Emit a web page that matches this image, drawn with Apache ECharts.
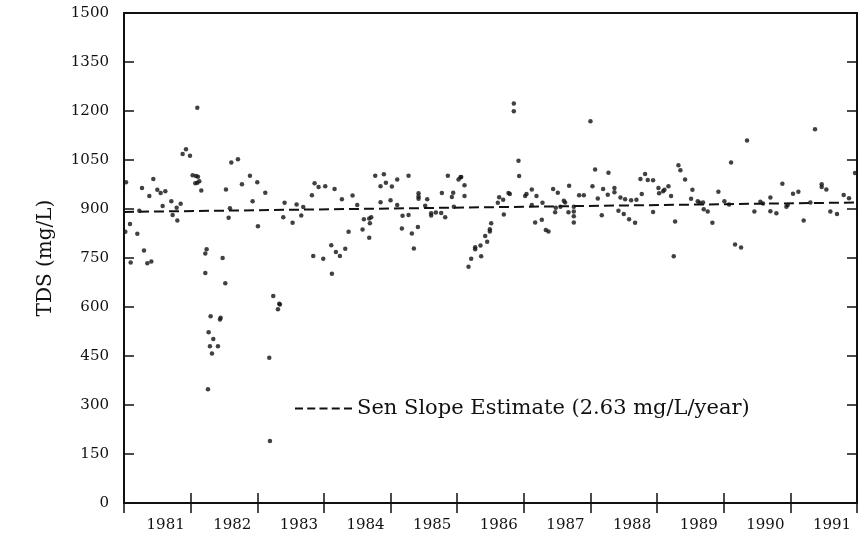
<!DOCTYPE html>
<html><head><meta charset="utf-8">
<script src="https://cdn.jsdelivr.net/npm/echarts@6/dist/echarts.min.js"></script>
<style>html,body{margin:0;padding:0;background:#fff}#c{width:860px;height:537px}</style>
</head><body><div id="c"></div>
<script>
// sampling time (decimal year) and TDS (mg/L)
const sampleTime = [
1980.03,1980.02,1980.09,1980.10,1980.20,1980.23,1980.27,1980.30,1980.35,1980.41,1980.38,1980.44,1980.50,1980.55,1980.58,1980.62,1980.71,1980.73,1980.79,1980.85,1980.80,1980.88,1980.93,1980.99,
1981.10,1981.03,1981.08,1981.11,1981.07,1981.10,1981.13,1981.16,1981.22,1981.24,1981.22,1981.26,1981.27,1981.29,1981.30,1981.32,1981.34,1981.41,1981.44,1981.45,1981.48,1981.52,1981.53,1981.57,1981.59,1981.61,1981.71,1981.77,1981.89,1981.93,
1982.00,1982.01,1982.12,1982.18,1982.19,1982.24,1982.31,1982.33,1982.34,1982.41,1982.39,1982.53,1982.59,1982.66,1982.69,1982.82,1982.84,1982.86,1982.92,1982.99,
1983.02,1983.11,1983.12,1983.16,1983.18,1983.24,1983.27,1983.32,1983.37,1983.43,1983.50,1983.58,1983.60,1983.68,1983.71,1983.69,1983.68,1983.77,1983.85,1983.85,1983.90,1983.93,
1984.00,1984.02,1984.10,1984.10,1984.18,1984.17,1984.27,1984.27,1984.32,1984.35,1984.42,1984.42,1984.42,1984.41,1984.52,1984.55,1984.61,1984.61,1984.68,1984.76,1984.77,1984.82,1984.86,1984.92,1984.94,1984.95,
1985.02,1985.05,1985.06,1985.11,1985.11,1985.17,1985.21,1985.27,1985.27,1985.35,1985.36,1985.42,1985.45,1985.49,1985.49,1985.51,1985.61,1985.63,1985.69,1985.70,1985.77,1985.79,1985.85,1985.85,1985.92,1985.93,
1986.02,1986.04,1986.12,1986.12,1986.17,1986.19,1986.27,1986.28,1986.33,1986.37,1986.44,1986.47,1986.48,1986.51,1986.55,1986.60,1986.62,1986.67,1986.68,1986.75,1986.75,1986.75,1986.75,1986.83,1986.90,
1987.00,1987.03,1987.07,1987.11,1987.17,1987.19,1987.26,1987.27,1987.36,1987.36,1987.42,1987.45,1987.50,1987.52,1987.58,1987.61,1987.67,1987.69,1987.75,1987.77,1987.82,1987.86,1987.94,1987.94,
1988.02,1988.03,1988.09,1988.11,1988.17,1988.21,1988.25,1988.27,1988.32,1988.35,1988.42,1988.51,1988.53,1988.61,1988.64,1988.70,1988.69,1988.76,1988.83,1988.92,
1989.01,1989.08,1989.11,1989.17,1989.26,1989.35,1989.46,1989.55,1989.59,1989.70,1989.70,1989.79,1989.88,1989.94,1989.96,
1990.04,1990.12,1990.20,1990.30,1990.37,1990.47,1990.47,1990.54,1990.60,1990.70,1990.80,1990.88,1990.97
];
const tdsValues = [
982,830,854,736,824,895,964,773,734,739,940,992,959,949,909,954,924,882,904,916,865,1068,1083,1063,
1210,1003,1001,999,979,980,985,957,764,777,704,348,523,480,572,458,502,480,562,567,750,673,960,873,902,1042,1052,976,1002,924,
982,847,950,445,190,634,593,610,608,919,875,858,914,880,906,942,756,979,967,748,
970,789,702,961,768,756,930,778,830,941,912,837,869,871,875,856,812,1002,970,921,1006,980,
927,969,990,912,879,840,882,1002,825,779,948,938,931,845,910,930,887,880,889,888,949,875,1002,937,950,907,
990,997,998,973,940,723,748,783,777,788,755,817,800,838,831,856,919,936,928,883,949,946,1223,1199,1048,1001,
940,946,960,912,859,940,867,919,836,831,961,890,904,950,907,925,920,890,971,907,892,878,859,942,942,
1169,970,1021,932,881,961,944,1011,964,951,895,935,885,930,869,927,858,928,992,946,1007,989,988,891,
964,948,954,959,970,940,755,862,1034,1019,990,931,959,924,919,899,920,892,858,953,
924,914,1042,791,782,1110,892,922,917,893,935,887,977,907,912,
947,953,865,920,1144,976,967,960,892,885,943,933,1010
];
// Sen slope estimate line end points
const senTime = [1980, 1991];
const senValues = [891, 920];
const legendLabel = 'Sen Slope Estimate (2.63 mg/L/year)';
const yAxisTitle = 'TDS (mg/L)';

const font = 'DejaVu Serif';
const points = sampleTime.map((t, i) => [t, tdsValues[i]]);
const senLine = senTime.map((t, i) => [t, senValues[i]]);

// five-dash legend icon
const dashIcon = 'path://M0 0h8v2H0z M12.25 0h8v2h-8z M24.5 0h8v2h-8z M36.75 0h8v2h-8z M49 0h8v2h-8z';

const chart = echarts.init(document.getElementById('c'), null, {renderer: 'canvas'});
chart.setOption({
  animation: false,
  backgroundColor: '#fff',
  grid: {left: 124, right: 3, top: 13, bottom: 34, show: true, borderColor: '#111', borderWidth: 2},
  legend: {
    data: [{name: legendLabel, icon: dashIcon}],
    left: 290, top: 393,
    itemWidth: 57, itemHeight: 2, itemGap: 11,
    textStyle: {fontFamily: font, fontSize: 21, color: '#111'}
  },
  xAxis: [{
    type: 'value', min: 1980, max: 1991, interval: 1,
    axisLine: {show: true, lineStyle: {color: '#111', width: 2}},
    axisTick: {inside: true, length: 10, lineStyle: {color: '#111', width: 1.5}},
    splitLine: {show: false},
    axisLabel: {
      color: '#111', fontFamily: font, fontSize: 15, margin: 15,
      padding: [0, 50, 0, 0],
      formatter: v => (v === 1980 ? '' : String(v))
    }
  }, {
    type: 'value', position: 'top', min: 1980, max: 1991, interval: 1,
    axisLine: {show: true, lineStyle: {color: '#111', width: 2}},
    axisTick: {inside: true, length: 10, lineStyle: {color: '#111', width: 1.5}},
    axisLabel: {show: false}, splitLine: {show: false}
  }],
  yAxis: [{
    type: 'value', min: 0, max: 1500, interval: 150,
    name: yAxisTitle, nameLocation: 'middle', nameGap: 68, nameRotate: 90,
    nameTextStyle: {fontFamily: font, fontSize: 20, color: '#111'},
    axisLine: {show: true, lineStyle: {color: '#111', width: 2}},
    axisTick: {inside: true, length: 10, lineStyle: {color: '#111', width: 1.5}},
    splitLine: {show: false},
    axisLabel: {color: '#111', fontFamily: font, fontSize: 15, margin: 15, formatter: v => String(v)}
  }, {
    type: 'value', position: 'right', min: 0, max: 1500, interval: 150,
    axisLine: {show: true, lineStyle: {color: '#111', width: 2}},
    axisTick: {inside: true, length: 10, lineStyle: {color: '#111', width: 1.5}},
    axisLabel: {show: false}, splitLine: {show: false}
  }],
  series: [{
    type: 'scatter', name: 'TDS', data: points,
    symbol: 'circle', symbolSize: 4.5,
    itemStyle: {color: '#111'}
  }, {
    type: 'line', name: legendLabel, data: senLine,
    symbol: 'none',
    itemStyle: {color: '#111'},
    lineStyle: {color: '#111', width: 2, type: [10, 5]}
  }]
});
</script></body></html>
